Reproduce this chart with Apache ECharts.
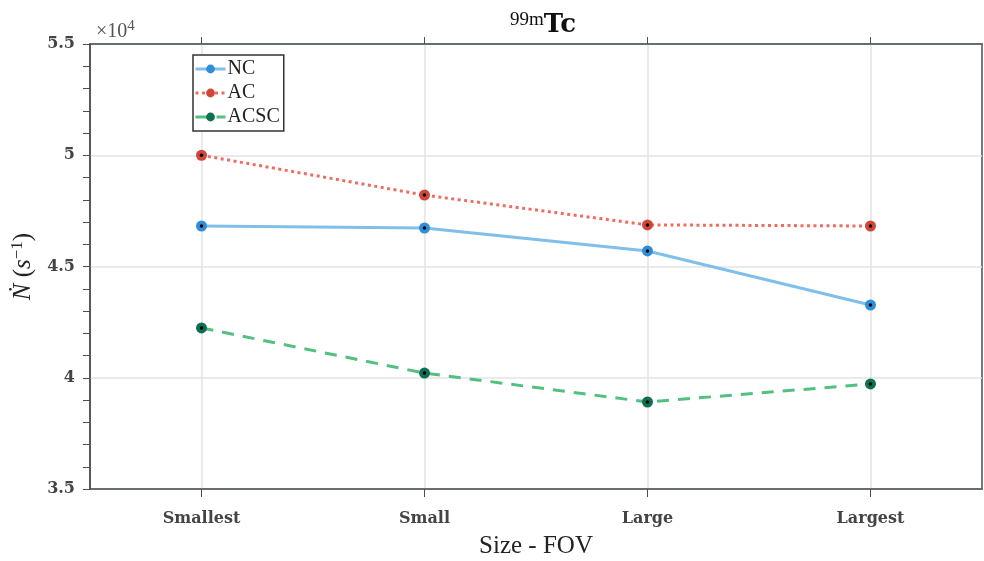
<!DOCTYPE html>
<html>
<head>
<meta charset="utf-8">
<script src="https://cdn.jsdelivr.net/npm/echarts@6/dist/echarts.min.js"></script>
<style>html,body{margin:0;padding:0;background:#fff}#c{width:984px;height:561px}</style>
</head>
<body>
<div id="c"></div>
<script>
var categories = ['Smallest', 'Small', 'Large', 'Largest'];
var ncValues = [46820, 46730, 45700, 43270];
var acValues = [50000, 48210, 46870, 46820];
var acscValues = [42240, 40210, 38910, 39720];
var yTicks = [35000, 40000, 45000, 50000, 55000];

var SERIF = '"Liberation Serif", "DejaVu Serif", serif';
var BSERIF = '"DejaVu Serif", "Liberation Serif", serif';
var AXC = '#4a4f52';

function mainSeries(name, data, lineColor, markColor, type, dash) {
  return {
    name: name, type: 'line', data: data,
    symbol: 'circle', symbolSize: 11, showSymbol: true,
    itemStyle: { color: markColor },
    lineStyle: { color: lineColor, width: 3, type: dash || type },
    z: 3
  };
}
function dotSeries(name, data) {
  return {
    name: name, type: 'line', data: data,
    symbol: 'circle', symbolSize: 3.5,
    itemStyle: { color: '#000' },
    lineStyle: { opacity: 0, width: 0 },
    z: 5, silent: true
  };
}

var chart = echarts.init(document.getElementById('c'), null, { renderer: 'canvas' });
chart.setOption({
  animation: false,
  backgroundColor: '#fff',
  title: [{
    text: '{sup|99m}{b|Tc}',
    left: 538, top: 6, textAlign: 'center',
    textStyle: {
      fontWeight: 'normal',
      rich: {
        sup: { fontFamily: SERIF, fontSize: 19, fontWeight: 'normal', color: '#111', verticalAlign: 'top', lineHeight: 28 },
        b: { fontFamily: BSERIF, fontSize: 26, fontWeight: 'bold', color: '#111', lineHeight: 28 }
      }
    }
  }, {
    text: '{t|×10}{sup|4}',
    left: 91, top: 14,
    textStyle: {
      fontWeight: 'normal',
      rich: {
        t: { fontFamily: SERIF, fontSize: 20, fontWeight: 'normal', color: '#555', lineHeight: 26 },
        sup: { fontFamily: SERIF, fontSize: 15, fontWeight: 'normal', color: '#555', verticalAlign: 'top', lineHeight: 26 }
      }
    }
  }],
  legend: {
    data: ['NC', 'AC', 'ACSC'],
    orient: 'vertical', left: 193, top: 55,
    itemWidth: 30, itemHeight: 11, itemGap: 4,
    padding: [4, 4, 4, 1],
    borderColor: '#333', borderWidth: 1.5, backgroundColor: '#fff',
    lineStyle: { width: 3 },
    textStyle: { fontFamily: SERIF, fontSize: 20, color: '#222', padding: [0, 0, 0, -3], lineHeight: 20 }
  },
  grid: {
    left: 90, right: 2, top: 44, bottom: 72,
    outerBoundsMode: 'none', containLabel: false,
    show: true, borderColor: AXC, borderWidth: 1.5, backgroundColor: 'transparent'
  },
  xAxis: [{
    type: 'category', data: categories, boundaryGap: true, position: 'bottom',
    axisLine: { show: true, lineStyle: { color: AXC, width: 1.5 } },
    axisTick: { show: true, alignWithLabel: true, length: 8, lineStyle: { color: AXC, width: 1 } },
    axisLabel: { fontFamily: BSERIF, fontSize: 16, fontWeight: 'bold', color: '#444', margin: 22 },
    splitLine: { show: true, alignWithLabel: true, lineStyle: { color: '#e3e3e3', width: 1.5 } },
    name: 'Size - FOV', nameLocation: 'middle', nameGap: 45,
    nameTextStyle: { fontFamily: SERIF, fontSize: 25, color: '#222' }
  }, {
    type: 'category', data: categories, boundaryGap: true, position: 'top',
    axisLine: { show: true, lineStyle: { color: AXC, width: 1.5 } },
    axisTick: { show: true, alignWithLabel: true, length: 7, lineStyle: { color: AXC, width: 1 } },
    axisLabel: { show: false }, splitLine: { show: false }
  }],
  yAxis: {
    type: 'value', min: 35000, max: 55000, interval: 5000,
    axisLine: { show: true, lineStyle: { color: AXC, width: 1.5 } },
    axisTick: { show: true, length: 7, lineStyle: { color: AXC, width: 1 } },
    minorTick: { show: true, splitNumber: 5, length: 7, lineStyle: { color: AXC, width: 1 } },
    axisLabel: {
      fontFamily: BSERIF, fontSize: 16, fontWeight: 'bold', color: '#444', margin: 15,
      formatter: function (v) { return yTicks.indexOf(v) >= 0 ? String(v / 10000) : ''; }
    },
    splitLine: { show: true, lineStyle: { color: '#e3e3e3', width: 1.5 } },
    name: '{i|Ṅ} ({i|s}{sup|−1})', nameLocation: 'middle', nameGap: 50, nameRotate: 90,
    nameTextStyle: {
      fontFamily: SERIF, fontSize: 25, color: '#222',
      rich: {
        i: { fontFamily: SERIF, fontSize: 25, fontStyle: 'italic', color: '#222', lineHeight: 30 },
        sup: { fontFamily: SERIF, fontSize: 17, color: '#222', verticalAlign: 'top', lineHeight: 30 }
      }
    }
  },
  series: [
    mainSeries('NC', ncValues, '#80bfea', '#2e8fd8', 'solid'),
    mainSeries('AC', acValues, '#ee6d62', '#d2463a', 'dotted', [3, 3.5]),
    mainSeries('ACSC', acscValues, '#52c081', '#0e6f52', 'dashed', [12, 9]),
    dotSeries('NC-d', ncValues),
    dotSeries('AC-d', acValues),
    dotSeries('ACSC-d', acscValues)
  ]
});
</script>
</body>
</html>
